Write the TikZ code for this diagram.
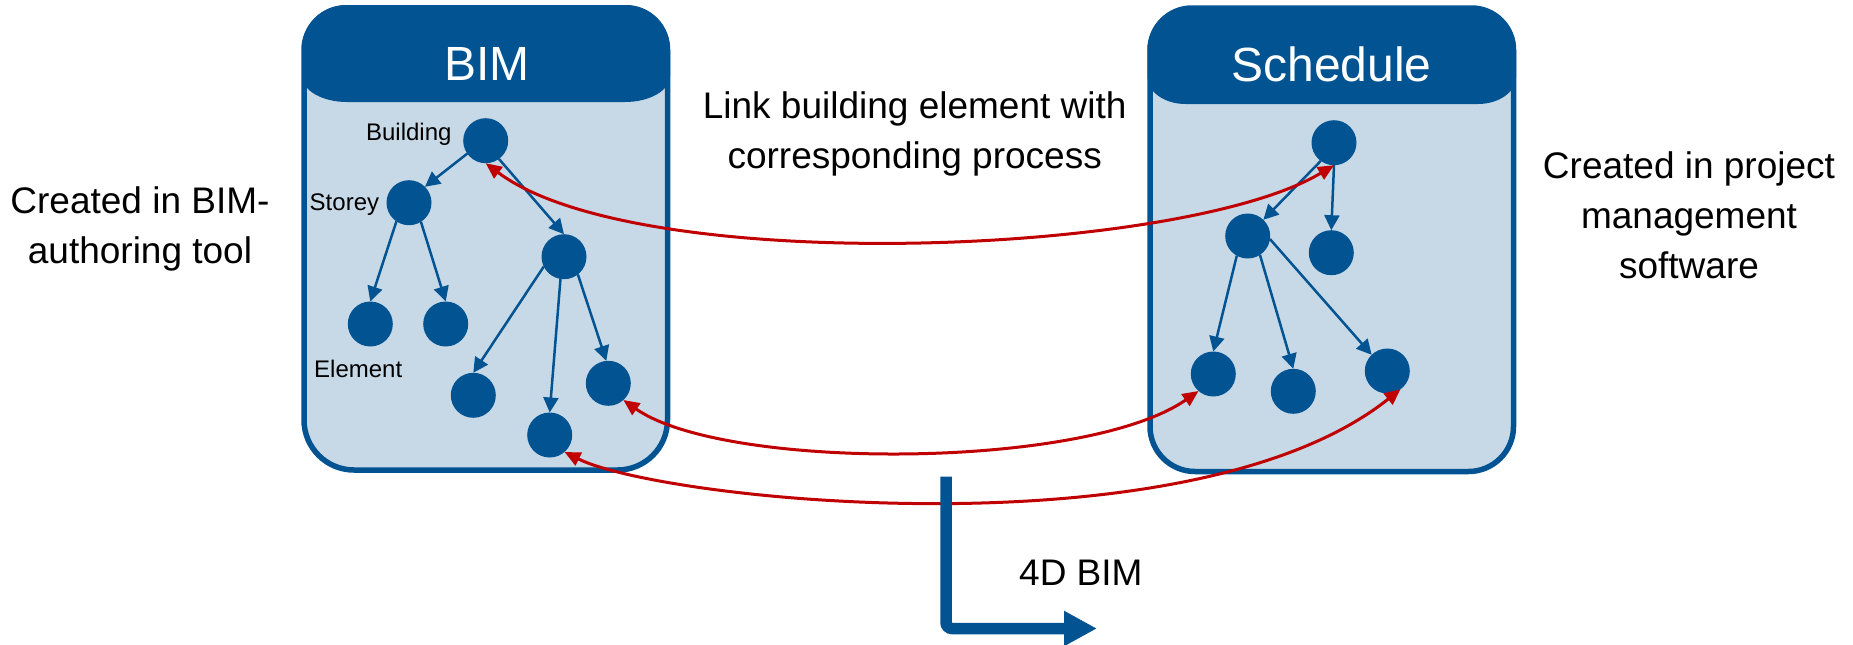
\documentclass[tikz,border=0pt]{standalone}
\usepackage{fontspec}
\setmainfont{Liberation Sans}
\usetikzlibrary{arrows.meta}
\definecolor{dblue}{RGB}{2,83,146}
\definecolor{lblue}{RGB}{199,217,231}
\definecolor{lred}{RGB}{192,0,0}
\begin{document}
\begin{tikzpicture}[x=1pt,y=-1pt,
  dot/.style={circle,fill=dblue,minimum size=45pt,inner sep=0pt,outer sep=0pt},
  tree/.style={draw=dblue,line width=2.5pt,-{Triangle[length=15pt,width=15pt]}},
  link/.style={draw=lred,line width=3pt,{Triangle[length=16pt,width=14pt]}-{Triangle[length=16pt,width=14pt]}},
  boxline/.style={draw=dblue,line width=5.5pt,fill=lblue},
  head/.style={fill=dblue},
  title/.style={text=white,font=\fontsize{48}{58}\selectfont,anchor=base,inner sep=0pt},
  lbl/.style={font=\fontsize{24}{29}\selectfont,inner sep=0pt},
  note/.style={font=\fontsize{37}{50}\selectfont,align=center,inner sep=0pt,anchor=base},
  bigarrow/.style={draw=dblue,line width=11.5pt,rounded corners=6pt,-{Triangle[length=33pt,width=33pt]}}
]
\useasboundingbox (0,0) rectangle (1853,645);

% BIM box
\path[boxline] (304,50) arc[start angle=180,end angle=270,radius=42] -- (625.5,8)
  arc[start angle=270,end angle=360,radius=42] -- (667.5,420)
  arc[start angle=0,end angle=90,radius=50] -- (354,470)
  arc[start angle=90,end angle=180,radius=50] -- cycle;
\path[head] (302,49) arc[start angle=180,end angle=270,radius=44] -- (626,5)
  arc[start angle=270,end angle=360,radius=44] -- (670,76)
  arc[start angle=0,end angle=90,x radius=45,y radius=26] -- (347,102)
  arc[start angle=90,end angle=180,x radius=45,y radius=26] -- cycle;

% Schedule box
\path[boxline] (1150,50) arc[start angle=180,end angle=270,radius=42] -- (1471.5,8)
  arc[start angle=270,end angle=360,radius=42] -- (1513.5,426.5)
  arc[start angle=0,end angle=90,radius=45] -- (1195,471.5)
  arc[start angle=90,end angle=180,radius=45] -- cycle;
\path[head] (1147.5,50) arc[start angle=180,end angle=270,radius=44] -- (1472,6)
  arc[start angle=270,end angle=360,radius=44] -- (1516,77)
  arc[start angle=0,end angle=90,x radius=38,y radius=27] -- (1185.5,104)
  arc[start angle=90,end angle=180,x radius=38,y radius=27] -- cycle;

\node[title] (bimt) at (486.7,80) {BIM};
\node[title] (scht) at (1331.5,81.7) {Schedule};

% BIM tree
\node[dot] (b) at (485.7,140.7) {};
\node[dot] (s) at (409,202.7) {};
\node[dot] (m) at (564,256.7) {};
\node[dot] (l1) at (370.3,324) {};
\node[dot] (l2) at (445.7,324) {};
\node[dot] (l3) at (473.3,395.3) {};
\node[dot] (l4) at (549.7,435) {};
\node[dot] (l5) at (608.3,383.3) {};

\node[lbl,anchor=base east] (lb) at (451.7,140) {Building};
\node[lbl,anchor=base east] (ls) at (379.3,210) {Storey};
\node[lbl,anchor=base west] (le) at (314,377.3) {Element};

\draw[tree] (b.215) -- (s.45);
\draw[tree] (b.306) -- (m.90);
\draw[tree] (s.236) -- (l1.90);
\draw[tree] (s.302) -- (l2.90);
\draw[tree] (m.206) -- (l3.90);
\draw[tree] (m.261) -- (l4.90);
\draw[tree] (m.308) -- (l5.95);

% Schedule tree
\node[dot] (t) at (1334,142.7) {};
\node[dot] (md) at (1247.7,236) {};
\node[dot] (r) at (1331.3,252.7) {};
\node[dot] (a) at (1213.3,374) {};
\node[dot] (bb) at (1293.3,391.3) {};
\node[dot] (c) at (1387.3,371) {};

\draw[tree] (t.234) -- (md.46);
\draw[tree] (t.270) -- (r.90);
\draw[tree] (md.241) -- (a.90);
\draw[tree] (md.303) -- (bb.90);
\draw[tree] (md.352) -- (c.134);

% links
\draw[link] (b.270) .. controls +(152,114) and +(-152,91) .. (t.270);
\draw[link] (l5.312) .. controls +(101,71) and +(-113,79) .. (a.229);
\draw[link] (l4.311) .. controls +(98,49) and +(-209,167) .. (c.306);

% notes (base anchor = baseline of the last line)
\node[note] (nl) at (140,263.3) {Created in BIM-\\authoring tool};
\node[note] (nm) at (914.7,168.3) {Link building element with\\corresponding process};
\node[note] (nr) at (1689,278.3) {Created in project\\management\\software};

% 4D BIM arrow
\coordinate (ar0) at (946,476.7);
\coordinate (ar1) at (1097,628.5);
\draw[bigarrow] (ar0) |- (ar1);
\node[font=\fontsize{37}{44}\selectfont,inner sep=0pt,anchor=base west] (fd) at (1019,585) {4D BIM};
\end{tikzpicture}
\end{document}
